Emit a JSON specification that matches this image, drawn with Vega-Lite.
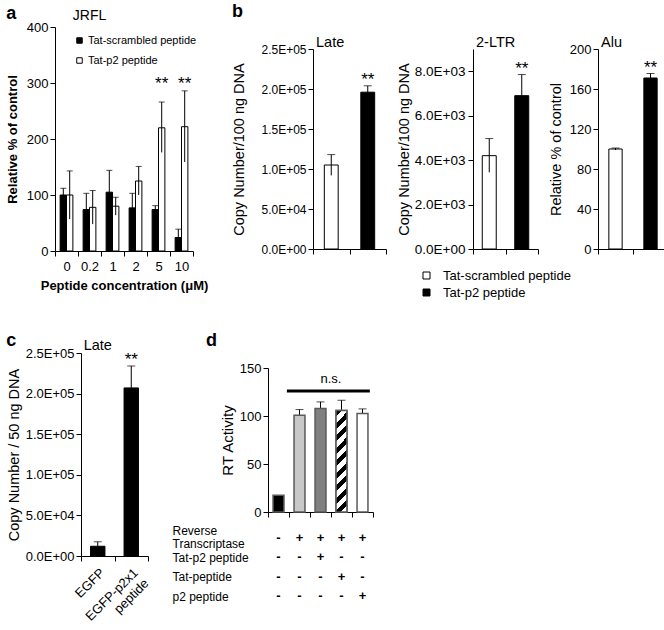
{
  "$schema": "https://vega.github.io/schema/vega-lite/v6.json",
  "padding": {"left": 6, "top": 2, "right": 0, "bottom": 0},
  "columns": 1,
  "align": "none",
  "spacing": 31,
  "resolve": {"scale": {"fill": "independent", "x": "independent", "y": "independent"}, "legend": {"fill": "independent"}},
  "concat": [
    {
      "columns": 2,
      "align": "none",
      "spacing": 23,
      "resolve": {"scale": {"fill": "independent", "x": "independent", "y": "independent"}, "legend": {"fill": "independent"}},
      "concat": [
        {
          "title": {"text": "a", "frame": "bounds", "anchor": "start", "fontSize": 18, "fontWeight": "bold", "offset": -14},
          "width": 138,
          "height": 224,
          "data": {"values": [
            {"conc": "0", "peptide": "Tat-scrambled peptide", "value": 100, "lo": 88, "hi": 112},
            {"conc": "0", "peptide": "Tat-p2 peptide", "value": 100, "lo": 57, "hi": 143},
            {"conc": "0.2", "peptide": "Tat-scrambled peptide", "value": 74, "lo": 45, "hi": 103},
            {"conc": "0.2", "peptide": "Tat-p2 peptide", "value": 78, "lo": 48, "hi": 108},
            {"conc": "1", "peptide": "Tat-scrambled peptide", "value": 105, "lo": 66, "hi": 144},
            {"conc": "1", "peptide": "Tat-p2 peptide", "value": 80, "lo": 64, "hi": 96},
            {"conc": "2", "peptide": "Tat-scrambled peptide", "value": 77, "lo": 51, "hi": 103},
            {"conc": "2", "peptide": "Tat-p2 peptide", "value": 125, "lo": 100, "hi": 151},
            {"conc": "5", "peptide": "Tat-scrambled peptide", "value": 74, "lo": 67, "hi": 81},
            {"conc": "5", "peptide": "Tat-p2 peptide", "value": 220, "lo": 176, "hi": 266, "sig": "**"},
            {"conc": "10", "peptide": "Tat-scrambled peptide", "value": 24, "lo": 9, "hi": 39},
            {"conc": "10", "peptide": "Tat-p2 peptide", "value": 222, "lo": 159, "hi": 286, "sig": "**"}
          ]},
          "encoding": {
            "x": {"field": "conc", "type": "nominal", "sort": ["0", "0.2", "1", "2", "5", "10"],
                  "scale": {"paddingInner": 0, "paddingOuter": 0},
                  "axis": {"title": "Peptide concentration (μM)", "titleFontWeight": "bold", "titleFontSize": 13, "labelFontSize": 13, "labelAngle": 0, "tickBand": "extent", "labelPadding": 4, "titlePadding": 6}}
          },
          "layer": [
            {
              "mark": {"type": "bar", "stroke": "black", "strokeWidth": 1},
              "encoding": {
                "xOffset": {"field": "peptide", "type": "nominal", "sort": ["Tat-scrambled peptide", "Tat-p2 peptide"], "scale": {"paddingInner": 0, "paddingOuter": 0.8}},
                "y": {"field": "value", "type": "quantitative", "scale": {"domain": [0, 400], "nice": false},
                      "axis": {"values": [0, 50, 100, 150, 200, 250, 300, 350, 400], "title": "Relative % of control", "titleFontWeight": "bold", "titleFontSize": 13, "labelFontSize": 13, "titlePadding": 7}},
                "fill": {"field": "peptide", "type": "nominal",
                         "scale": {"domain": ["Tat-scrambled peptide", "Tat-p2 peptide"], "range": ["black", "white"]},
                         "legend": {"title": null, "orient": "none", "legendX": 19, "legendY": 8, "symbolType": "square", "symbolSize": 30, "symbolStrokeColor": "black", "symbolStrokeWidth": 1, "labelFontSize": 11, "rowPadding": 8, "labelOffset": 3}}
              }
            },
            {
              "mark": {"type": "rule", "color": "black", "strokeWidth": 1},
              "encoding": {
                "xOffset": {"field": "peptide", "type": "nominal", "sort": ["Tat-scrambled peptide", "Tat-p2 peptide"], "scale": {"paddingInner": 0, "paddingOuter": 0.8}},
                "y": {"field": "lo", "type": "quantitative"},
                "y2": {"field": "hi"}
              }
            },
            {
              "mark": {"type": "tick", "color": "black", "thickness": 1, "size": 6},
              "encoding": {
                "xOffset": {"field": "peptide", "type": "nominal", "sort": ["Tat-scrambled peptide", "Tat-p2 peptide"], "scale": {"paddingInner": 0, "paddingOuter": 0.8}},
                "y": {"field": "hi", "type": "quantitative"}
              }
            },
            {
              "transform": [{"filter": "datum.sig"}],
              "mark": {"type": "text", "fontSize": 17, "baseline": "alphabetic", "color": "black"},
              "encoding": {
                "xOffset": {"field": "peptide", "type": "nominal", "sort": ["Tat-scrambled peptide", "Tat-p2 peptide"], "scale": {"paddingInner": 0, "paddingOuter": 0.8}},
                "y": {"datum": 290},
                "text": {"field": "sig"}
              }
            },
            {
              "data": {"values": [{"conc": "0.2", "label": "JRFL"}]},
              "mark": {"type": "text", "fontSize": 14, "baseline": "alphabetic", "dy": -7, "color": "black"},
              "encoding": {
                "y": {"datum": 400},
                "text": {"field": "label"}
              }
            }
          ]
        },
        {
          "title": {"text": "b", "frame": "bounds", "anchor": "start", "fontSize": 18, "fontWeight": "bold", "offset": 6.5},
          "columns": 3,
          "align": "none",
          "spacing": 9,
          "resolve": {"scale": {"x": "independent", "y": "independent"}},
          "concat": [
            {
              "title": {"text": "Late", "frame": "group", "anchor": "start", "fontSize": 14.5, "fontWeight": "normal", "offset": -23.5, "dx": 3},
              "width": 73,
              "height": 222,
              "data": {"values": [
                {"group": "Tat-scrambled peptide", "value": 105000, "lo": 92000, "hi": 118000},
                {"group": "Tat-p2 peptide", "value": 196000, "lo": 188000, "hi": 204000, "sig": "**"}
              ]},
              "encoding": {
                "x": {"field": "group", "type": "nominal", "sort": ["Tat-scrambled peptide", "Tat-p2 peptide"], "scale": {"paddingInner": 0, "paddingOuter": 0},
                      "axis": {"title": null, "labels": false, "tickBand": "extent"}}
              },
              "layer": [
                {
                  "mark": {"type": "bar", "stroke": "black", "strokeWidth": 1, "width": {"band": 0.38}},
                  "encoding": {
                    "y": {"field": "value", "type": "quantitative", "scale": {"domain": [0, 250000], "range": [222, 22], "nice": false},
                          "axis": {"values": [0, 50000, 100000, 150000, 200000, 250000], "labelExpr": "replace(format(datum.value, '.1e'), 'e+', 'E+0')", "title": "Copy Number/100 ng DNA", "titlePadding": 14}},
                    "fill": {"field": "group", "type": "nominal", "scale": {"domain": ["Tat-scrambled peptide", "Tat-p2 peptide"], "range": ["white", "black"]},
                             "legend": {"title": null, "orient": "none", "legendX": 107, "legendY": 242, "symbolType": "square", "symbolSize": 49, "symbolStrokeColor": "black", "symbolStrokeWidth": 1, "labelFontSize": 13, "rowPadding": 3, "labelOffset": 10}}
                  }
                },
                {"mark": {"type": "rule", "color": "black"}, "encoding": {"y": {"field": "lo", "type": "quantitative"}, "y2": {"field": "hi"}}},
                {"mark": {"type": "tick", "color": "black", "thickness": 1, "size": 8}, "encoding": {"y": {"field": "hi", "type": "quantitative"}}},
                {"transform": [{"filter": "datum.sig"}], "mark": {"type": "text", "fontSize": 17, "baseline": "alphabetic", "dy": -1, "color": "black"}, "encoding": {"y": {"field": "hi", "type": "quantitative"}, "text": {"field": "sig"}}}
              ]
            },
            {
              "title": {"text": "2-LTR", "frame": "group", "anchor": "start", "fontSize": 14.5, "fontWeight": "normal", "offset": -23.5, "dx": 3},
              "width": 65,
              "height": 222,
              "data": {"values": [
                {"group": "Tat-scrambled peptide", "value": 4200, "lo": 3450, "hi": 4970},
                {"group": "Tat-p2 peptide", "value": 6900, "lo": 5950, "hi": 7850, "sig": "**"}
              ]},
              "encoding": {
                "x": {"field": "group", "type": "nominal", "sort": ["Tat-scrambled peptide", "Tat-p2 peptide"], "scale": {"paddingInner": 0, "paddingOuter": 0},
                      "axis": {"title": null, "labels": false, "tickBand": "extent"}}
              },
              "layer": [
                {
                  "mark": {"type": "bar", "stroke": "black", "strokeWidth": 1, "width": {"band": 0.43}},
                  "encoding": {
                    "y": {"field": "value", "type": "quantitative", "scale": {"domain": [0, 9000], "range": [222, 22], "nice": false},
                          "axis": {"values": [0, 1000, 2000, 3000, 4000, 5000, 6000, 7000, 8000, 9000], "labelExpr": "replace(format(datum.value, '.1e'), 'e+', 'E+0')", "title": "Copy Number/100 ng DNA", "titlePadding": 3, "labelFontSize": 13.5, "labelPadding": 3}},
                    "fill": {"field": "group", "type": "nominal", "scale": {"domain": ["Tat-scrambled peptide", "Tat-p2 peptide"], "range": ["white", "black"]},
                             "legend": {"title": null, "orient": "none", "legendX": 107, "legendY": 242, "symbolType": "square", "symbolSize": 49, "symbolStrokeColor": "black", "symbolStrokeWidth": 1, "labelFontSize": 13, "rowPadding": 3, "labelOffset": 10}}
                  }
                },
                {"mark": {"type": "rule", "color": "black"}, "encoding": {"y": {"field": "lo", "type": "quantitative"}, "y2": {"field": "hi"}}},
                {"mark": {"type": "tick", "color": "black", "thickness": 1, "size": 8}, "encoding": {"y": {"field": "hi", "type": "quantitative"}}},
                {"transform": [{"filter": "datum.sig"}], "mark": {"type": "text", "fontSize": 17, "baseline": "alphabetic", "dy": -1, "color": "black"}, "encoding": {"y": {"field": "hi", "type": "quantitative"}, "text": {"field": "sig"}}}
              ]
            },
            {
              "title": {"text": "Alu", "frame": "group", "anchor": "start", "fontSize": 14.5, "fontWeight": "normal", "offset": -23.5, "dx": 3},
              "width": 70,
              "height": 222,
              "data": {"values": [
                {"group": "Tat-scrambled peptide", "value": 100, "lo": 99, "hi": 101},
                {"group": "Tat-p2 peptide", "value": 171, "lo": 166.5, "hi": 175.5, "sig": "**"}
              ]},
              "encoding": {
                "x": {"field": "group", "type": "nominal", "sort": ["Tat-scrambled peptide", "Tat-p2 peptide"], "scale": {"paddingInner": 0, "paddingOuter": 0},
                      "axis": {"title": null, "labels": false, "tickBand": "extent"}}
              },
              "layer": [
                {
                  "mark": {"type": "bar", "stroke": "black", "strokeWidth": 1, "width": {"band": 0.38}},
                  "encoding": {
                    "y": {"field": "value", "type": "quantitative", "scale": {"domain": [0, 200], "range": [222, 22], "nice": false},
                          "axis": {"values": [0, 20, 40, 60, 80, 100, 120, 140, 160, 180, 200], "title": "Relative % of control", "titlePadding": 6, "labelFontSize": 13}},
                    "fill": {"field": "group", "type": "nominal", "scale": {"domain": ["Tat-scrambled peptide", "Tat-p2 peptide"], "range": ["white", "black"]},
                             "legend": {"title": null, "orient": "none", "legendX": 107, "legendY": 242, "symbolType": "square", "symbolSize": 49, "symbolStrokeColor": "black", "symbolStrokeWidth": 1, "labelFontSize": 13, "rowPadding": 3, "labelOffset": 10}}
                  }
                },
                {"mark": {"type": "rule", "color": "black"}, "encoding": {"y": {"field": "lo", "type": "quantitative"}, "y2": {"field": "hi"}}},
                {"mark": {"type": "tick", "color": "black", "thickness": 1, "size": 8}, "encoding": {"y": {"field": "hi", "type": "quantitative"}}},
                {"transform": [{"filter": "datum.sig"}], "mark": {"type": "text", "fontSize": 17, "baseline": "alphabetic", "dy": -1, "color": "black"}, "encoding": {"y": {"field": "hi", "type": "quantitative"}, "text": {"field": "sig"}}}
              ]
            }
          ]
        }
      ]
    },
    {
      "columns": 2,
      "align": "none",
      "spacing": 20,
      "resolve": {"scale": {"fill": "independent", "x": "independent", "y": "independent"}, "legend": {"fill": "independent"}},
      "concat": [
        {
          "title": {"text": "c", "frame": "bounds", "anchor": "start", "fontSize": 18, "fontWeight": "bold", "offset": -11.5},
          "width": 93,
          "height": 203,
          "data": {"values": [
            {"construct": "EGFP", "value": 12000, "lo": 7000, "hi": 17500},
            {"construct": "EGFP-p2x1 peptide", "value": 207000, "lo": 180000, "hi": 234000, "sig": "**"}
          ]},
          "encoding": {
            "x": {"field": "construct", "type": "nominal", "sort": ["EGFP", "EGFP-p2x1 peptide"], "scale": {"paddingInner": 0, "paddingOuter": 0, "range": [26, 93]},
                  "axis": {"title": null, "labelAngle": -45, "labelAlign": "right", "labelBaseline": "top", "tickBand": "extent", "labelFontSize": 13, "labelLineHeight": 15, "labelPadding": 5,
                           "labelExpr": "datum.label == 'EGFP-p2x1 peptide' ? ['EGFP-p2x1', 'peptide\u00a0\u00a0\u00a0\u00a0\u00a0\u00a0'] : datum.label"}}
          },
          "layer": [
            {
              "mark": {"type": "bar", "fill": "black", "stroke": "black", "strokeWidth": 1, "width": {"band": 0.43}},
              "encoding": {
                "y": {"field": "value", "type": "quantitative", "scale": {"domain": [0, 250000], "nice": false},
                      "axis": {"offset": -26, "values": [0, 50000, 100000, 150000, 200000, 250000], "labelExpr": "replace(format(datum.value, '.1e'), 'e+', 'E+0')", "title": "Copy Number / 50 ng DNA", "labelFontSize": 13}}
              }
            },
            {"mark": {"type": "rule", "color": "black"}, "encoding": {"y": {"field": "lo", "type": "quantitative"}, "y2": {"field": "hi"}}},
            {"mark": {"type": "tick", "color": "black", "thickness": 1, "size": 8}, "encoding": {"y": {"field": "hi", "type": "quantitative"}}},
            {"transform": [{"filter": "datum.sig"}], "mark": {"type": "text", "fontSize": 17, "baseline": "alphabetic", "dy": -1, "color": "black"}, "encoding": {"y": {"field": "hi", "type": "quantitative"}, "text": {"field": "sig"}}},
            {
              "data": {"values": [{"construct": "EGFP", "label": "Late"}]},
              "mark": {"type": "text", "fontSize": 14.5, "baseline": "alphabetic", "dy": -3, "color": "black"},
              "encoding": {"y": {"datum": 250000}, "text": {"field": "label"}}
            }
          ]
        },
        {
          "title": {"text": "d", "frame": "bounds", "anchor": "start", "fontSize": 18, "fontWeight": "bold", "offset": 3.5, "dx": 34},
          "columns": 1,
          "align": "none",
          "bounds": "flush",
          "spacing": 16,
          "resolve": {"scale": {"x": "independent", "y": "independent"}},
          "concat": [
            {
              "width": 105,
              "height": 159,
              "data": {"values": [
                {"bar": "1", "value": 17.5},
                {"bar": "2", "value": 100.8, "hi": 106.7},
                {"bar": "3", "value": 107.7, "hi": 114.7},
                {"bar": "4", "value": 105.7, "hi": 116.4},
                {"bar": "5", "value": 102.5, "hi": 107.4}
              ]},
              "encoding": {
                "x": {"field": "bar", "type": "nominal", "scale": {"domain": ["1", "2", "3", "4", "5"], "paddingInner": 0, "paddingOuter": 0},
                      "axis": {"title": null, "labels": false, "tickBand": "extent"}}
              },
              "layer": [
                {
                  "mark": {"type": "rule", "color": "black"},
                  "transform": [{"filter": "datum.hi"}],
                  "encoding": {"y": {"field": "value", "type": "quantitative"}, "y2": {"field": "hi"}}
                },
                {
                  "mark": {"type": "bar", "stroke": "#5a5a5a", "strokeWidth": 1.5, "width": {"band": 0.52}},
                  "encoding": {
                    "y": {"field": "value", "type": "quantitative", "scale": {"domain": [0, 150], "range": [159, 15], "nice": false},
                          "axis": {"values": [0, 50, 100, 150], "title": "RT Activity", "labelFontSize": 13, "titleFontSize": 15}},
                    "fill": {"field": "bar", "type": "nominal", "scale": {"domain": ["1", "2", "3", "4", "5"], "range": ["black", "#c8c8c8", "#808080", "white", "white"]}, "legend": null}
                  }
                },
                {
                  "transform": [{"filter": "datum.bar == '4'"}],
                  "mark": {"type": "bar", "stroke": "#5a5a5a", "strokeWidth": 1.5, "width": {"band": 0.52},
                           "fill": {"gradient": "linear", "x1": 0, "y1": 0, "x2": 0.119, "y2": 1.096, "stops": [
                             {"offset": 0, "color": "black"}, {"offset": 0.0556, "color": "black"}, {"offset": 0.0556, "color": "white"}, {"offset": 0.1111, "color": "white"},
                             {"offset": 0.1111, "color": "black"}, {"offset": 0.1667, "color": "black"}, {"offset": 0.1667, "color": "white"}, {"offset": 0.2222, "color": "white"},
                             {"offset": 0.2222, "color": "black"}, {"offset": 0.2778, "color": "black"}, {"offset": 0.2778, "color": "white"}, {"offset": 0.3333, "color": "white"},
                             {"offset": 0.3333, "color": "black"}, {"offset": 0.3889, "color": "black"}, {"offset": 0.3889, "color": "white"}, {"offset": 0.4444, "color": "white"},
                             {"offset": 0.4444, "color": "black"}, {"offset": 0.5, "color": "black"}, {"offset": 0.5, "color": "white"}, {"offset": 0.5556, "color": "white"},
                             {"offset": 0.5556, "color": "black"}, {"offset": 0.6111, "color": "black"}, {"offset": 0.6111, "color": "white"}, {"offset": 0.6667, "color": "white"},
                             {"offset": 0.6667, "color": "black"}, {"offset": 0.7222, "color": "black"}, {"offset": 0.7222, "color": "white"}, {"offset": 0.7778, "color": "white"},
                             {"offset": 0.7778, "color": "black"}, {"offset": 0.8333, "color": "black"}, {"offset": 0.8333, "color": "white"}, {"offset": 0.8889, "color": "white"},
                             {"offset": 0.8889, "color": "black"}, {"offset": 0.9444, "color": "black"}, {"offset": 0.9444, "color": "white"}, {"offset": 1, "color": "white"}
                           ]}},
                  "encoding": {"y": {"field": "value", "type": "quantitative"}}
                },
                {
                  "mark": {"type": "tick", "color": "black", "thickness": 1, "size": 8},
                  "transform": [{"filter": "datum.hi"}],
                  "encoding": {"y": {"field": "hi", "type": "quantitative"}}
                },
                {
                  "data": {"values": [{"start": "2", "end": "5", "mid": "4", "label": "n.s."}]},
                  "mark": {"type": "rule", "color": "black", "strokeWidth": 3},
                  "encoding": {
                    "x": {"field": "start", "type": "nominal", "bandPosition": -0.1},
                    "x2": {"field": "end", "bandPosition": 0.85},
                    "y": {"datum": 126}
                  }
                },
                {
                  "data": {"values": [{"start": "2", "end": "5", "mid": "4", "label": "n.s."}]},
                  "mark": {"type": "text", "fontSize": 13, "baseline": "alphabetic", "dy": -8, "color": "black"},
                  "encoding": {
                    "x": {"field": "mid", "type": "nominal", "bandPosition": 0},
                    "y": {"datum": 126},
                    "text": {"field": "label"}
                  }
                }
              ]
            },
            {
              "width": 105,
              "height": 78,
              "data": {"values": [
                {"bar": "1", "row": "Reverse Transcriptase", "sign": "-"},
                {"bar": "2", "row": "Reverse Transcriptase", "sign": "+"},
                {"bar": "3", "row": "Reverse Transcriptase", "sign": "+"},
                {"bar": "4", "row": "Reverse Transcriptase", "sign": "+"},
                {"bar": "5", "row": "Reverse Transcriptase", "sign": "+"},
                {"bar": "1", "row": "Tat-p2 peptide", "sign": "-"},
                {"bar": "2", "row": "Tat-p2 peptide", "sign": "-"},
                {"bar": "3", "row": "Tat-p2 peptide", "sign": "+"},
                {"bar": "4", "row": "Tat-p2 peptide", "sign": "-"},
                {"bar": "5", "row": "Tat-p2 peptide", "sign": "-"},
                {"bar": "1", "row": "Tat-peptide", "sign": "-"},
                {"bar": "2", "row": "Tat-peptide", "sign": "-"},
                {"bar": "3", "row": "Tat-peptide", "sign": "-"},
                {"bar": "4", "row": "Tat-peptide", "sign": "+"},
                {"bar": "5", "row": "Tat-peptide", "sign": "-"},
                {"bar": "1", "row": "p2 peptide", "sign": "-"},
                {"bar": "2", "row": "p2 peptide", "sign": "-"},
                {"bar": "3", "row": "p2 peptide", "sign": "-"},
                {"bar": "4", "row": "p2 peptide", "sign": "-"},
                {"bar": "5", "row": "p2 peptide", "sign": "+"}
              ]},
              "mark": {"type": "text", "fontSize": 13, "fontWeight": "bold", "color": "black"},
              "encoding": {
                "x": {"field": "bar", "type": "nominal", "scale": {"domain": ["1", "2", "3", "4", "5"], "paddingInner": 0, "paddingOuter": 0}, "axis": null},
                "y": {"field": "row", "type": "nominal", "sort": ["Reverse Transcriptase", "Tat-p2 peptide", "Tat-peptide", "p2 peptide"],
                      "scale": {"paddingInner": 0, "paddingOuter": 0},
                      "axis": {"title": null, "domain": false, "ticks": false, "labelAlign": "left", "labelPadding": 96, "labelFontSize": 12, "labelLineHeight": 13,
                               "labelOffset": {"condition": {"test": "datum.value == 'Reverse Transcriptase'", "value": -7}, "value": 0},
                               "labelExpr": "datum.label == 'Reverse Transcriptase' ? ['Reverse', 'Transcriptase'] : datum.label"}},
                "text": {"field": "sign"}
              }
            }
          ]
        }
      ]
    }
  ],
  "config": {
    "font": "Liberation Sans",
    "view": {"stroke": null},
    "axis": {"grid": false, "labelOverlap": false, "domainColor": "black", "tickColor": "black", "labelColor": "black", "titleColor": "black", "labelFontSize": 12, "titleFontSize": 14.5, "titleFontWeight": "normal", "tickSize": 5, "labelPadding": 2, "titlePadding": 4, "labelFont": "Liberation Sans", "titleFont": "Liberation Sans"},
    "legend": {"labelFont": "Liberation Sans", "labelColor": "black"},
    "title": {"font": "Liberation Sans", "color": "black"},
    "text": {"font": "Liberation Sans", "color": "black"}
  }
}
